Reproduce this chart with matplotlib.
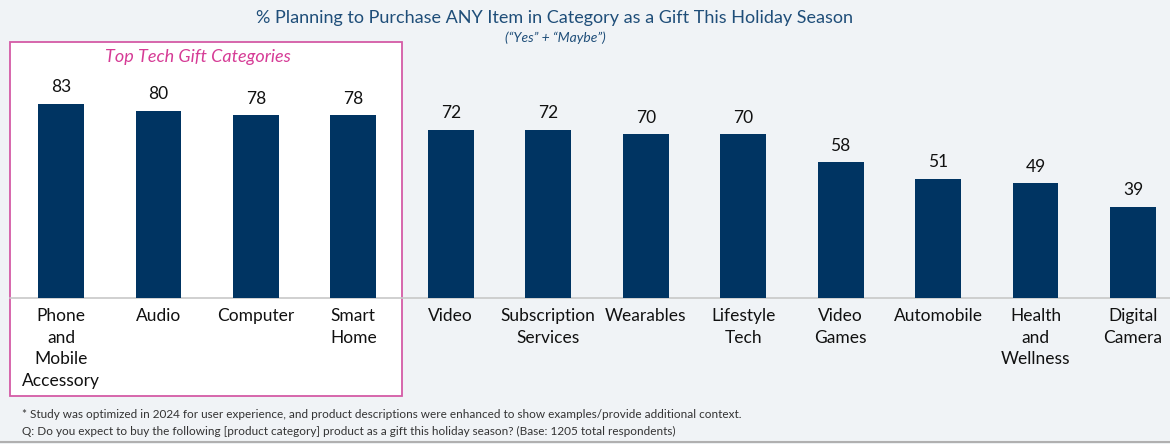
import matplotlib.pyplot as plt
from matplotlib.patches import Rectangle

categories = ["Phone\nand\nMobile\nAccessory", "Audio", "Computer", "Smart\nHome", "Video",
              "Subscription\nServices", "Wearables", "Lifestyle\nTech", "Video\nGames",
              "Automobile", "Health\nand\nWellness", "Digital\nCamera"]
values = [83, 80, 78, 78, 72, 72, 70, 70, 58, 51, 49, 39]

W, H = 1170, 444
plt.rcParams['font.family'] = ['Lato', 'DejaVu Sans']

fig = plt.figure(figsize=(W / 100, H / 100), dpi=100, facecolor='#f0f3f6')

# white highlight box behind the top four categories
box = Rectangle((10 / W, 1 - 396 / H), 392 / W, 354 / H, transform=fig.transFigure,
                facecolor='white', edgecolor='#d45ba6', linewidth=1.3, zorder=0)
fig.patches.append(box)

ax = fig.add_axes([10 / W, 146 / H, 1160 / W, 234 / H])
ax.set_zorder(2)
ax.patch.set_alpha(0)
x = list(range(len(values)))
ax.bar(x, values, width=0.47, color='#003462', zorder=3)
for xi, v in zip(x, values):
    ax.annotate(str(v), (xi, v), xytext=(0, 6), textcoords='offset points',
                ha='center', va='bottom', fontsize=12.5, color='#111111')

ax.set_xlim(-0.523, 11.38)
ax.set_ylim(0, 100)
ax.set_yticks([])
ax.set_xticks(x)
ax.set_xticklabels(categories, fontsize=12.5, color='#111111', linespacing=1.45)
ax.tick_params(axis='x', length=0, pad=7)
for s in ['top', 'right', 'left']:
    ax.spines[s].set_visible(False)
ax.spines['bottom'].set_color('#c8c8c8')
ax.spines['bottom'].set_linewidth(1.2)

fig.text(555 / W, 1 - 18 / H, "% Planning to Purchase ANY Item in Category as a Gift This Holiday Season",
         ha='center', va='center', fontsize=13, color='#1f4e79')
fig.text(555 / W, 1 - 38 / H, "(\u201cYes\u201d + \u201cMaybe\u201d)", ha='center', va='center',
         fontsize=10, style='italic', color='#1f4e79')
fig.text(198 / W, 1 - 57 / H, "Top Tech Gift Categories", ha='center', va='center',
         fontsize=13, style='italic', color='#d63c96')

fig.text(22 / W, 1 - 414 / H, "* Study was optimized in 2024 for user experience, and product descriptions were enhanced to show examples/provide additional context.",
         ha='left', va='center', fontsize=8.5, color='#333333')
fig.text(22 / W, 1 - 431 / H, "Q: Do you expect to buy the following [product category] product as a gift this holiday season? (Base: 1205 total respondents)",
         ha='left', va='center', fontsize=8.5, color='#333333')

fig.add_artist(plt.Line2D([0, 1], [2 / H, 2 / H], transform=fig.transFigure, color='#b0b0b0', linewidth=1.5))

fig.savefig('out.png', dpi=100, facecolor=fig.get_facecolor())
